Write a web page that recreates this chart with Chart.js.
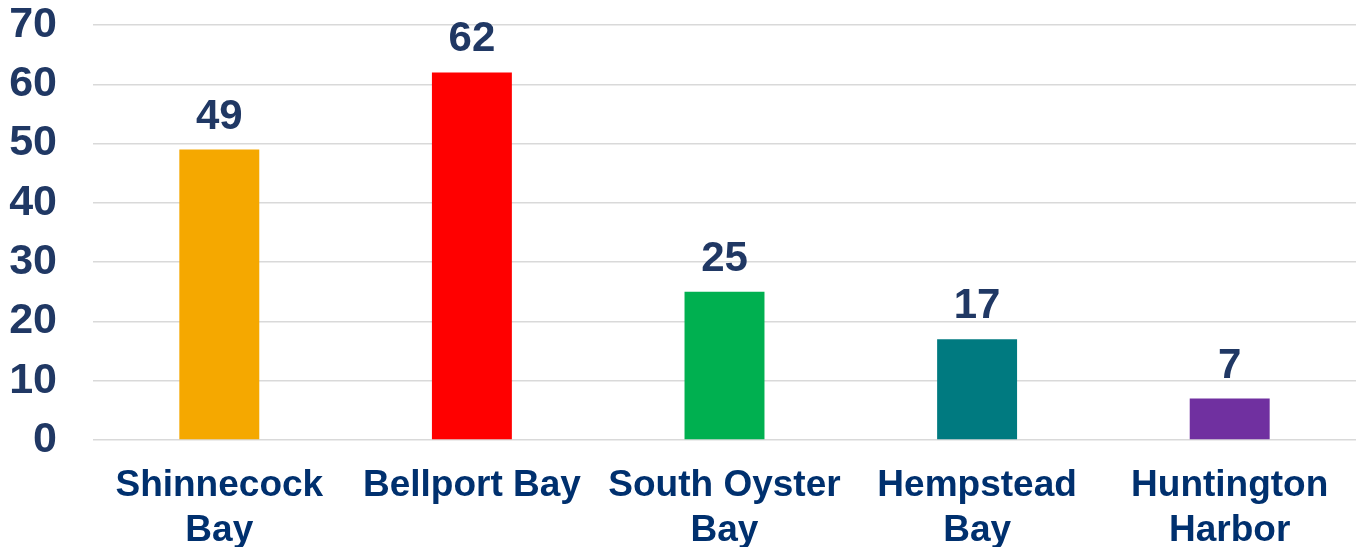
<!DOCTYPE html>
<html>
<head>
<meta charset="utf-8">
<script src="https://cdn.jsdelivr.net/npm/chart.js@4/dist/chart.umd.min.js"></script>
<style>
  html, body { margin: 0; padding: 0; background: #fff; }
  #wrap { width: 1358px; height: 547px; position: relative; }
</style>
</head>
<body>
<div id="wrap"><canvas id="bays"></canvas></div>
<script>
const bayLabels = [
  ["Shinnecock", "Bay"],
  ["Bellport Bay"],
  ["South Oyster", "Bay"],
  ["Hempstead", "Bay"],
  ["Huntington", "Harbor"]
];
const counts = [49, 62, 25, 17, 7];
const barColors = ["#F5A800", "#FF0000", "#00B050", "#007A80", "#7030A0"];
const yTicks = [0, 10, 20, 30, 40, 50, 60, 70];

const fontFamily = "'Liberation Sans', Arial, sans-serif";
const navy = "#203864";

// draws the number above each bar
const valueLabels = {
  id: "valueLabels",
  afterDatasetsDraw(chart) {
    const ctx = chart.ctx;
    const meta = chart.getDatasetMeta(0);
    ctx.save();
    ctx.font = "bold 42px " + fontFamily;
    ctx.fillStyle = navy;
    ctx.textAlign = "center";
    ctx.textBaseline = "alphabetic";
    meta.data.forEach((bar, i) => {
      ctx.fillText(String(counts[i]), bar.x, bar.y - 21);
    });
    ctx.restore();
  }
};

new Chart(document.getElementById("bays"), {
  type: "bar",
  data: {
    labels: bayLabels,
    datasets: [{
      data: counts,
      backgroundColor: barColors,
      borderWidth: 0,
      categoryPercentage: 1,
      barPercentage: 0.3165
    }]
  },
  options: {
    responsive: true,
    maintainAspectRatio: false,
    animation: false,
    layout: { padding: { top: 25, right: 2, left: 0, bottom: 0 } },
    plugins: {
      legend: { display: false },
      tooltip: { enabled: false }
    },
    scales: {
      x: {
        grid: { display: false, drawTicks: false },
        border: { display: false },
        ticks: {
          color: "#00306E",
          font: { family: fontFamily, size: 37, weight: "bold", lineHeight: 1.22 },
          padding: 23,
          maxRotation: 0,
          autoSkip: false
        },
        afterFit(scale) {
          scale.height = 107;
          scale.paddingLeft = 0;
          scale.paddingRight = 0;
        }
      },
      y: {
        min: 0,
        max: 70,
        afterBuildTicks(scale) { scale.ticks = yTicks.map(v => ({ value: v })); },
        grid: { color: "#D9D9D9", lineWidth: 1.5, drawTicks: false },
        border: { display: false },
        ticks: {
          color: navy,
          font: { family: fontFamily, size: 43, weight: "bold" },
          padding: 36
        },
        afterFit(scale) {
          scale.width = 93;
          scale.paddingTop = 0;
          scale.paddingBottom = 0;
        }
      }
    }
  },
  plugins: [valueLabels]
});
</script>
</body>
</html>
